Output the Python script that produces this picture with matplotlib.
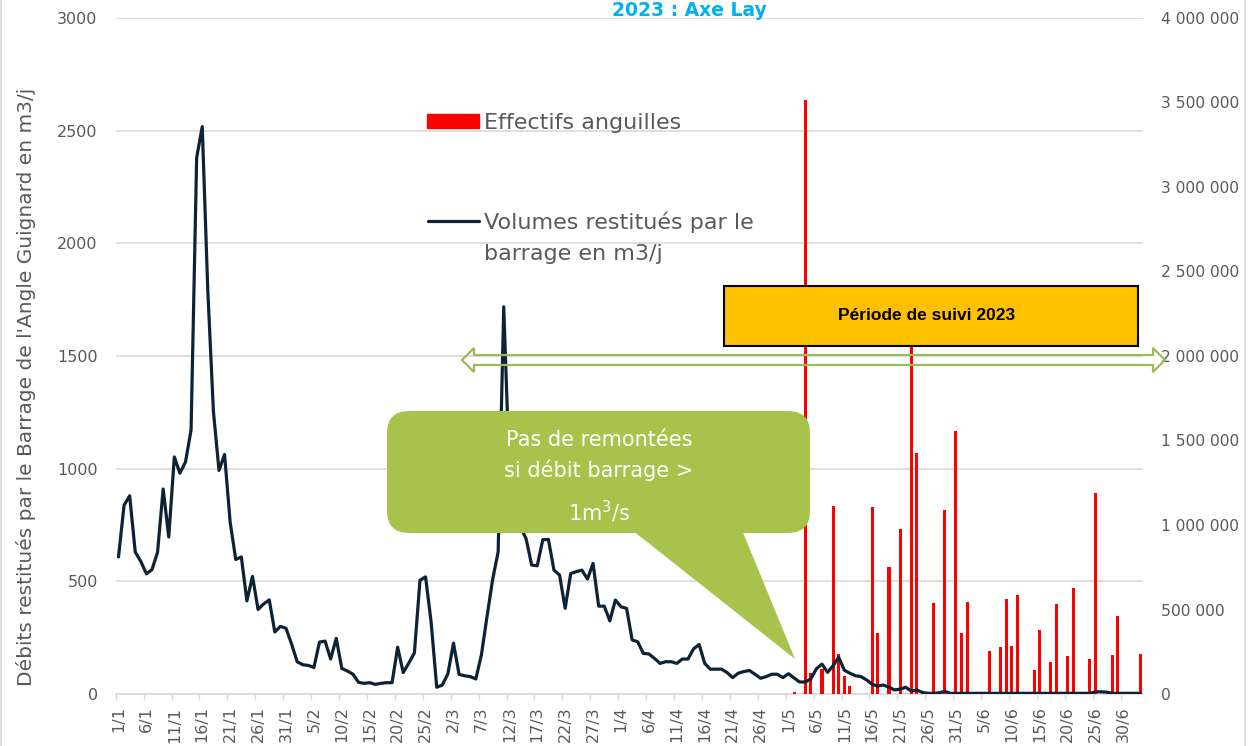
import matplotlib
matplotlib.use("Agg")
import matplotlib.pyplot as plt
import matplotlib.patches as mpatches
import matplotlib.transforms as mtransforms
from matplotlib.lines import Line2D
from matplotlib.ticker import FuncFormatter, MultipleLocator
import numpy as np
import pandas as pd

# jours du suivi (axe des categories)
days = pd.date_range("2023-01-01", "2023-07-03", freq="D")
day_labels = [f"{d.day}/{d.month}" for d in days]

# volumes restitues par le barrage (m3/j), axe de droite
volumes = [
    811000, 1117000, 1173000, 840000, 784000, 711000, 736000, 840000, 1213000, 929000,
    1403000, 1307000, 1373000, 1563000, 3173000, 3357000, 2384000, 1673000, 1323000, 1417000,
    1017000, 796000, 811000, 551000, 696000, 500000, 533000, 557000, 367000, 400000,
    389000, 296000, 191000, 173000, 169000, 157000, 307000, 313000, 207000, 329000,
    151000, 136000, 117000, 69000, 63000, 67000, 57000, 63000, 67000, 67000,
    277000, 127000, 183000, 243000, 673000, 693000, 424000, 40000, 53000, 120000,
    301000, 116000, 108000, 103000, 89000, 231000, 457000, 675000, 841000, 2291000,
    1333000, 1067000, 987000, 920000, 763000, 759000, 913000, 915000, 733000, 704000,
    507000, 713000, 724000, 733000, 680000, 773000, 520000, 520000, 433000, 556000,
    516000, 507000, 320000, 309000, 240000, 237000, 211000, 181000, 191000, 191000,
    181000, 207000, 207000, 267000, 293000, 181000, 147000, 147000, 147000, 127000,
    97000, 123000, 133000, 139000, 117000, 93000, 103000, 117000, 117000, 97000,
    120000, 95000, 71000, 71000, 89000, 149000, 177000, 128000, 168000, 217000,
    141000, 123000, 108000, 103000, 83000, 57000, 47000, 53000, 40000, 24000,
    29000, 40000, 17000, 24000, 9000, 4000, 4000, 7000, 16000, 4000,
    4000, 4000, 4000, 4000, 4000, 4000, 4000, 4000, 4000, 4000,
    4000, 4000, 4000, 4000, 4000, 4000, 4000, 4000, 4000, 4000,
    4000, 4000, 4000, 4000, 4000, 13000, 13000, 11000, 4000, 4000,
    4000, 4000, 4000, 4000,
]

# effectifs anguilles (axe de gauche)
eel_dates = ["2/5", "4/5", "5/5", "7/5", "9/5", "10/5", "11/5", "12/5", "16/5", "17/5",
             "19/5", "21/5", "23/5", "24/5", "27/5", "29/5", "31/5", "1/6", "2/6", "6/6",
             "8/6", "9/6", "10/6", "11/6", "14/6", "15/6", "17/6", "18/6", "20/6", "21/6",
             "24/6", "25/6", "28/6", "29/6", "3/7"]
eel_counts = [8, 2635, 91, 112, 834, 177, 82, 37, 830, 270,
              565, 732, 1650, 1069, 405, 816, 1168, 270, 410, 191,
              210, 421, 214, 439, 107, 285, 142, 398, 167, 470,
              155, 894, 171, 346, 177]

W, H = 1250, 746
GREY = "#595959"
GRID = "#D9D9D9"
GREEN = "#A7C34B"

x = np.arange(len(days))
counts = np.zeros(len(days))
for d, c in zip(eel_dates, eel_counts):
    counts[day_labels.index(d)] = c

fig = plt.figure(figsize=(W / 100, H / 100), dpi=100)
px = mtransforms.Affine2D().scale(1 / W, -1 / H).translate(0, 1) + fig.transFigure

ax = fig.add_axes([115.7 / W, 1 - 694 / H, (1143 - 115.7) / W, (694 - 18) / H])
ax2 = ax.twinx()

ax.bar(x, counts, width=0.55, color="#FF0000", zorder=3)
ax2.plot(x, volumes, color="#0E2236", lw=2.3, solid_joinstyle="round", solid_capstyle="round")

ax.set_xlim(-0.5, len(days) - 0.5)
ax.set_ylim(0, 3000)
ax2.set_ylim(0, 4000000)
ax.yaxis.set_major_locator(MultipleLocator(500))
ax2.yaxis.set_major_locator(MultipleLocator(500000))
ax2.yaxis.set_major_formatter(FuncFormatter(lambda v, p: f"{int(v):,}".replace(",", " ")))

ax.set_axisbelow(True)
ax.grid(axis="y", color=GRID, lw=1.2)
for a in (ax, ax2):
    for s in a.spines.values():
        s.set_visible(False)
ax.spines["bottom"].set_visible(True)
ax.spines["bottom"].set_color(GRID)
ax.spines["bottom"].set_linewidth(1.2)

ax.set_xticks(x[::5])
ax.set_xticklabels(day_labels[::5], rotation=90)
ax.set_xticks(np.arange(-0.5, len(days), 5), minor=True)
ax.tick_params(axis="x", which="major", length=0, pad=9, labelsize=11.5, labelcolor=GREY)
ax.tick_params(axis="x", which="minor", length=4, color=GRID, width=1)
ax.tick_params(axis="y", length=0, pad=13, labelsize=11.5, labelcolor=GREY)
ax2.tick_params(axis="y", length=0, pad=13, labelsize=11.2, labelcolor=GREY)

ax.set_ylabel("Débits restitués par le Barrage de l'Angle Guignard en m3/j",
              fontsize=14.5, color=GREY)
ax.yaxis.set_label_coords(-0.078, 0.455)

# titre (en haut, tres pres du bord)
fig.text(689, 16, "2023 : Axe Lay", transform=px, ha="center", va="baseline",
         fontsize=13.5, fontweight="bold", color="#00B0F0")

# legende
fig.add_artist(mpatches.Rectangle((427, 114), 52, 14, transform=px, color="#FF0000"))
fig.text(484, 129, "Effectifs anguilles", transform=px, fontsize=16, color=GREY, va="baseline")
fig.add_artist(Line2D([428, 479], [221, 221], transform=px, color="#0E2236", lw=2.3,
                      solid_capstyle="round"))
fig.text(484, 229, "Volumes restitués par le", transform=px, fontsize=16, color=GREY,
         va="baseline")
fig.text(484, 260, "barrage en m3/j", transform=px, fontsize=16, color=GREY, va="baseline")

# periode de suivi
fig.add_artist(mpatches.Rectangle((724, 286), 414, 60, transform=px, facecolor="#FFC000",
                                  edgecolor="black", lw=1.5, zorder=5))
fig.text(927, 316, "Période de suivi 2023", transform=px, ha="center", va="center",
         fontsize=12.5, fontweight="bold", family="Liberation Sans", color="black", zorder=6)

# double fleche verte
arrow_pts = [(462, 360), (474, 348), (474, 355), (1153, 355), (1153, 348), (1165, 360),
             (1153, 372), (1153, 365), (474, 365), (474, 372)]
fig.add_artist(mpatches.Polygon(arrow_pts, closed=True, transform=px, facecolor="none",
                                edgecolor="#9BBB59", lw=1.6, zorder=5))

# bulle
fig.add_artist(mpatches.FancyBboxPatch((387, 411), 423, 122, transform=px,
                                       boxstyle="round,pad=0,rounding_size=22",
                                       facecolor=GREEN, edgecolor="none", zorder=5))
fig.add_artist(mpatches.Polygon([(632, 530), (742, 530), (795, 659)], closed=True,
                                transform=px, facecolor=GREEN, edgecolor="none", zorder=5))
fig.text(599, 440, "Pas de remontées", transform=px, ha="center", va="center",
         fontsize=15, color="white", zorder=6)
fig.text(599, 470, "si débit barrage >", transform=px, ha="center", va="center",
         fontsize=15, color="white", zorder=6)
fig.text(599, 512, "1m$^{3}$/s", transform=px, ha="center", va="center",
         fontsize=15, color="white", zorder=6)

# cadre
fig.add_artist(Line2D([1, 1], [0, H], transform=px, color=GRID, lw=1.2))
fig.add_artist(Line2D([1245, 1245], [0, H], transform=px, color=GRID, lw=1.2))

fig.savefig("out.png", dpi=100)
